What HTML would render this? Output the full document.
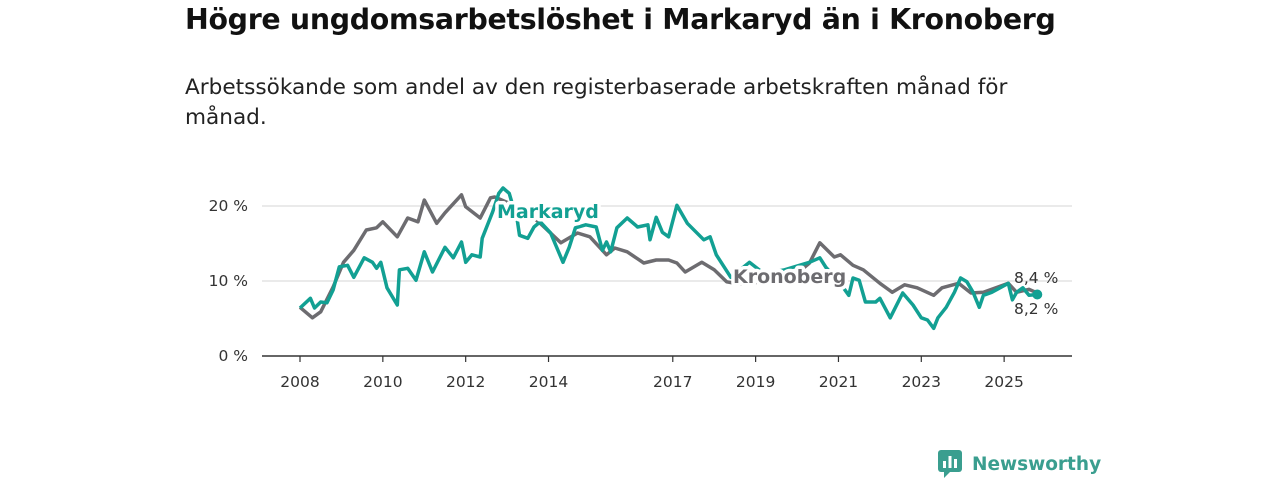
<!DOCTYPE html>
<html><head><meta charset="utf-8">
<style>
body{margin:0;background:#fff;width:1280px;height:480px;overflow:hidden;font-family:"Liberation Sans","DejaVu Sans",sans-serif;}
h1{position:absolute;left:185px;top:3px;margin:0;font-size:28.4px;font-weight:bold;color:#111;font-family:"DejaVu Sans","Liberation Sans",sans-serif;letter-spacing:-0.3px}
.sub{position:absolute;left:185px;top:73px;width:900px;font-size:21.6px;line-height:30px;color:#222;font-family:"DejaVu Sans","Liberation Sans",sans-serif}
svg{position:absolute;left:0;top:0}
.lbl{paint-order:stroke;stroke:#fff;stroke-width:7px;stroke-linejoin:round;font-weight:bold;font-size:19px;font-family:"DejaVu Sans","Liberation Sans",sans-serif}
.tick{font-size:15.5px;fill:#333;font-family:"DejaVu Sans","Liberation Sans",sans-serif}
</style></head><body>
<h1>Högre ungdomsarbetslöshet i Markaryd än i Kronoberg</h1>
<div class="sub">Arbetssökande som andel av den registerbaserade arbetskraften månad för månad.</div>
<svg width="1280" height="480" id="chart"></svg>
<div style="position:absolute;left:938px;top:449px;height:30px;display:flex;align-items:center">
<svg width="26" height="30" style="position:relative"><rect x="0" y="1" width="24" height="22" rx="3" fill="#3a9e8f"/><path d="M6 23 L6 29 L12 23Z" fill="#3a9e8f"/><rect x="5" y="12" width="3" height="7" fill="#fff"/><rect x="10.5" y="7" width="3" height="12" fill="#fff"/><rect x="16" y="10" width="3" height="9" fill="#fff"/></svg>
<span style="margin-left:8px;font-size:18.5px;font-weight:bold;color:#3a9e8f;font-family:'DejaVu Sans','Liberation Sans',sans-serif">Newsworthy</span></div>
<script>
const yTicks=[0,10,20];
const xTickYears=[2008,2010,2012,2014,2017,2019,2021,2023,2025];
const kronDates=[2008.0,2008.3,2008.5,2008.8,2009.05,2009.3,2009.6,2009.85,2010.0,2010.35,2010.6,2010.85,2011.0,2011.3,2011.5,2011.9,2012.0,2012.35,2012.6,2012.7,2013.0,2013.4,2013.8,2014.3,2014.7,2015.0,2015.4,2015.6,2015.9,2016.3,2016.6,2016.9,2017.1,2017.3,2017.7,2018.0,2018.3,2018.6,2019.0,2019.5,2020.0,2020.3,2020.55,2020.9,2021.05,2021.35,2021.6,2022.0,2022.3,2022.6,2022.9,2023.3,2023.5,2023.9,2024.2,2024.5,2024.8,2025.1,2025.3,2025.6,2025.8];
const kronValues=[6.5,5.1,5.9,9.2,12.5,14.1,16.8,17.1,17.9,15.9,18.4,17.9,20.8,17.7,19.1,21.5,19.9,18.4,21.1,21.2,20.5,19.5,17.7,15.1,16.4,15.9,13.5,14.4,13.9,12.4,12.8,12.8,12.4,11.2,12.5,11.5,9.9,9.6,9.8,10.5,11.0,12.4,15.1,13.2,13.5,12.1,11.5,9.7,8.5,9.5,9.1,8.1,9.1,9.7,8.4,8.5,9.1,9.7,8.5,8.9,8.4];
const markDates=[2008.0,2008.25,2008.35,2008.5,2008.65,2008.8,2008.95,2009.15,2009.3,2009.55,2009.75,2009.85,2009.95,2010.1,2010.35,2010.4,2010.6,2010.8,2011.0,2011.2,2011.5,2011.7,2011.9,2012.0,2012.15,2012.35,2012.4,2012.65,2012.8,2012.9,2013.05,2013.25,2013.3,2013.5,2013.65,2013.8,2014.05,2014.35,2014.5,2014.65,2014.9,2015.15,2015.3,2015.4,2015.5,2015.65,2015.9,2016.15,2016.4,2016.45,2016.6,2016.75,2016.9,2017.1,2017.35,2017.75,2017.9,2018.05,2018.4,2018.85,2019.2,2019.7,2020.0,2020.3,2020.55,2020.7,2021.0,2021.25,2021.35,2021.5,2021.65,2021.9,2022.0,2022.25,2022.55,2022.8,2023.0,2023.15,2023.3,2023.4,2023.6,2023.8,2023.95,2024.1,2024.25,2024.4,2024.5,2024.7,2025.1,2025.2,2025.3,2025.45,2025.6,2025.8];
const markValues=[6.4,7.7,6.4,7.2,7.1,8.8,11.9,12.1,10.5,13.1,12.5,11.7,12.5,9.1,6.8,11.5,11.7,10.1,13.9,11.2,14.5,13.1,15.2,12.5,13.5,13.2,15.7,19.2,21.7,22.4,21.7,17.9,16.1,15.7,17.2,17.9,16.4,12.5,14.5,17.1,17.5,17.2,14.1,15.2,13.9,17.1,18.4,17.2,17.5,15.5,18.5,16.5,15.9,20.1,17.7,15.5,15.9,13.5,10.5,12.5,11.0,11.5,12.0,12.5,13.1,11.8,10.0,8.1,10.4,10.1,7.2,7.2,7.7,5.1,8.4,6.8,5.1,4.8,3.7,5.1,6.5,8.5,10.4,9.9,8.5,6.5,8.1,8.5,9.7,7.5,8.5,9.1,8.1,8.2];
const NS="http://www.w3.org/2000/svg";
const svg=document.getElementById('chart');
const xS=y=>300+(y-2008)*41.42;
const yS=v=>356-v*7.5;
function mk(tag,attrs,parent){const e=document.createElementNS(NS,tag);for(const k in attrs)e.setAttribute(k,attrs[k]);(parent||svg).appendChild(e);return e;}
yTicks.forEach(t=>{
  const l=mk('line',{x1:262,x2:1072,y1:yS(t),y2:yS(t),stroke:t===0?'#333':'#ddd','stroke-width':t===0?1.5:1.2});
  
  
  const tx=mk('text',{x:248,y:yS(t)+5,'text-anchor':'end',class:'tick'});
  tx.textContent=t+' %';
  
  
});
xTickYears.forEach(yr=>{
  const l=mk('line',{x1:xS(yr),x2:xS(yr),y1:356,y2:362,stroke:'#333','stroke-width':1.2});
  
  
  const tx=mk('text',{x:xS(yr),y:387,'text-anchor':'middle',class:'tick'});
  tx.textContent=yr;
  
  
});
function pts(d,v){return d.map((x,i)=>xS(x).toFixed(1)+','+yS(v[i]).toFixed(1)).join(' ');}
const kl=mk('polyline',{points:pts(kronDates,kronValues),fill:'none',stroke:'#6d6c70','stroke-width':3.5,'stroke-linejoin':'round'});


const ml=mk('polyline',{points:pts(markDates,markValues),fill:'none',stroke:'#12a093','stroke-width':3.5,'stroke-linejoin':'round'});


const n=markDates.length-1;
const dot=mk('circle',{cx:xS(markDates[n]),cy:yS(markValues[n]),r:5,fill:'#12a093'});


const t1=mk('text',{x:497,y:218,fill:'#12a093',class:'lbl'});t1.textContent='Markaryd';


const t2=mk('text',{x:733,y:283,fill:'#6d6c70',class:'lbl'});t2.textContent='Kronoberg';


const e1=mk('text',{x:1014,y:283,class:'tick',fill:'#222'});e1.textContent='8,4 %';


const e2=mk('text',{x:1014,y:314,class:'tick',fill:'#222'});e2.textContent='8,2 %';


</script>
</body></html>
